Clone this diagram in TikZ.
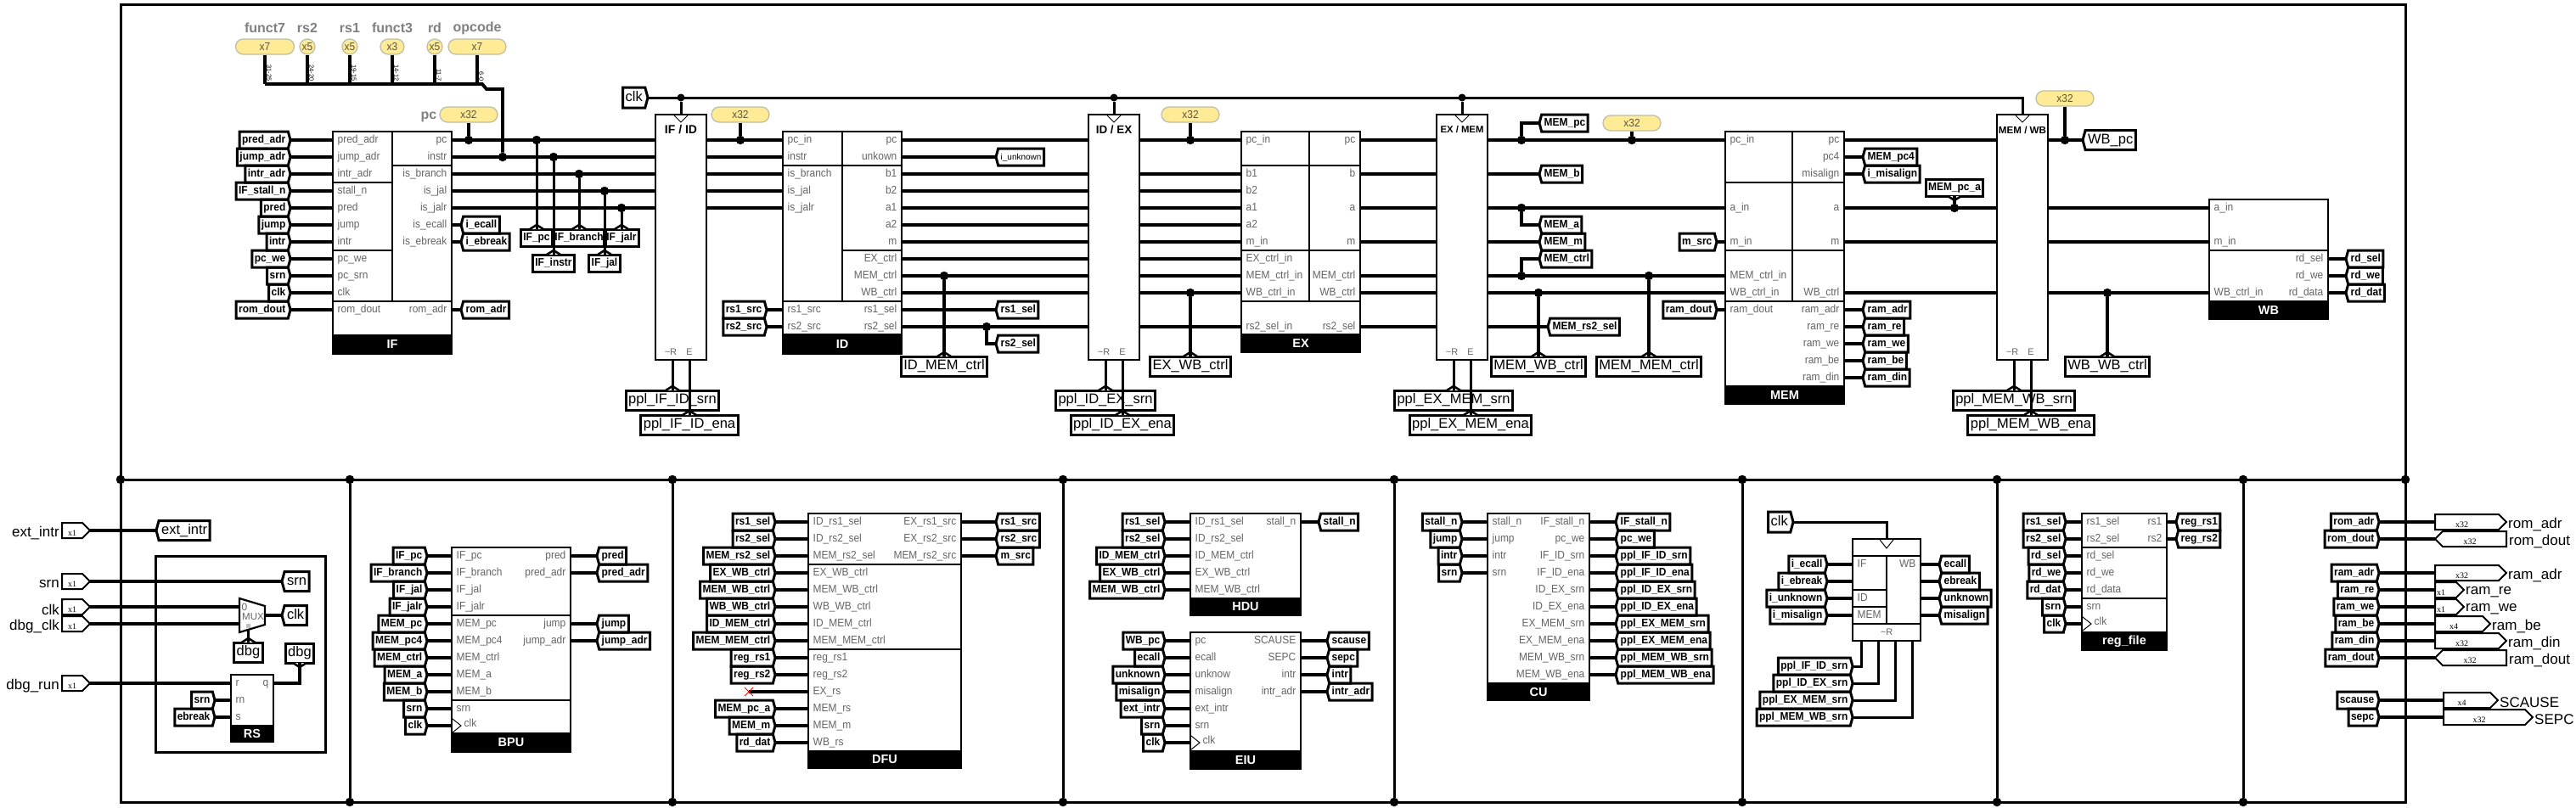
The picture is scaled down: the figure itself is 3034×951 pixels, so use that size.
\documentclass[tikz,border=0pt]{standalone}
\usepackage{fontspec}
\setmainfont{Liberation Sans}
\newfontfamily\pinfont{Liberation Serif}
\newfontfamily\tallfont[FakeStretch=0.92]{Liberation Sans}
\usetikzlibrary{shapes.symbols}
\catcode`\_=12
\definecolor{portgrey}{RGB}{100,100,100}
\definecolor{probefill}{RGB}{255,235,150}
\definecolor{probeline}{RGB}{190,190,165}
\definecolor{probetext}{RGB}{90,85,60}
\tikzset{
  wire/.style={line width=3.8,line join=miter},
  sig/.style={line width=3,line join=miter},
  frame/.style={line width=3},
  rule/.style={line width=1.4},
  dot/.style={circle,fill=black,inner sep=0,minimum size=10.5},
  modbody/.style={rectangle,draw,line width=2.2,inner sep=0,outer sep=0},
  modtitle/.style={rectangle,draw,fill=black,text=white,line width=2,inner sep=0,outer sep=0,font=\fontsize{14.5}{14.5}\selectfont\bfseries},
  portl/.style={anchor=west,xshift=5.5,inner sep=0,text=portgrey,text height=9,text depth=3,font=\fontsize{13}{13}\tallfont},
  portr/.style={anchor=east,xshift=-5.5,inner sep=0,text=portgrey,text height=9,text depth=3,font=\fontsize{13}{13}\tallfont},
  tagtext/.style={line width=3,outer sep=0,inner xsep=3,inner ysep=0,minimum height=20,text height=9,text depth=3,font=\fontsize{13}{13}\tallfont\bfseries},
  bigtag/.style={minimum height=23,text height=12,text depth=4,inner xsep=3,font=\fontsize{16.5}{16.5}\selectfont},
  tagr/.style={signal,draw,signal to=east,signal pointer angle=150,tagtext,anchor=east},
  tagl/.style={signal,draw,signal to=west,signal pointer angle=150,tagtext,anchor=west},
  tagbox/.style={rectangle,draw,tagtext},
  caret/.style={line width=2.6,fill=white,line join=miter},
  clkmark/.style={line width=1},
  pill/.style={rectangle,rounded corners=9,draw=probeline,fill=probefill,line width=1.3,inner sep=0,minimum height=18,minimum width=68,text=probetext,font=\fontsize{13}{13}\tallfont},
  probename/.style={inner sep=0,text=gray,font=\fontsize{16}{16}\selectfont\bfseries},
  bitlbl/.style={rotate=-90,anchor=east,inner sep=0,font=\fontsize{7.5}{7.5}\selectfont},
  pinr/.style={signal,draw,signal to=east,signal pointer angle=90,line width=2,outer sep=0,inner sep=0,minimum height=18,anchor=west},
  pinl/.style={signal,draw,signal to=west,signal pointer angle=90,line width=2,outer sep=0,inner sep=0,minimum height=18,anchor=east},
  pintext/.style={inner sep=0,font=\fontsize{10}{10}\selectfont\pinfont},
  pinname/.style={inner sep=0,font=\fontsize{17}{17}\selectfont},
}
\newcommand{\modbox}[7]{%
  \node[modbody,minimum width=#4,minimum height=#5,anchor=north west] (#1) at (#2,#3) {};
  \node[modtitle,minimum width=#4,minimum height=#6,anchor=north] (#1t) at (#1.south) {#7};
}
\newcommand{\portsl}[3]{%
  \foreach \y/\pn in {#3} {
    \coordinate (#1l\y) at (#2,\y);
    \node[portl] (#1lp\y) at (#2,\y) {\pn};
  }
}
\newcommand{\portsr}[3]{%
  \foreach \y/\pn in {#3} {
    \coordinate (#1r\y) at (#2,\y);
    \node[portr] (#1rp\y) at (#2,\y) {\pn};
  }
}
\newcommand{\tagsl}[4]{%
  \foreach \y/\pn/\tg in {#4} {
    \coordinate (#1l\y) at (#2,\y);
    \node[portl] (#1lp\y) at (#2,\y) {\pn};
    \node[tagr] (#1lt\y) at (#3,\y) {\tg};
    \draw[wire] (#1lt\y.east) -- (#1l\y);
  }
}
\newcommand{\tagsr}[4]{%
  \foreach \y/\pn/\tg in {#4} {
    \coordinate (#1r\y) at (#2,\y);
    \node[portr] (#1rp\y) at (#2,\y) {\pn};
    \node[tagl] (#1rt\y) at (#3,\y) {\tg};
    \draw[wire] (#1r\y) -- (#1rt\y.west);
  }
}
\newcommand{\tagup}[5]{%
  \node[tagbox,#1,anchor=north] (#2) at (#3,#4+5) {#5};
  \draw[caret] (#3-8,#4+5) -- (#3,#4) -- (#3+8,#4+5);
}
\newcommand{\tagdown}[5]{%
  \node[tagbox,#1,anchor=south] (#2) at (#3,#4-5) {#5};
  \draw[caret] (#3-8,#4-5) -- (#3,#4) -- (#3+8,#4-5);
}
\newcommand{\pipereg}[4]{%
  \node[modbody,minimum width=60,minimum height=289,anchor=north] (#1) at (#2,135) {};
  \draw[clkmark] (#2-8,136) -- (#2,144) -- (#2+8,136);
  \node[inner sep=0,font=\fontsize{#4}{#4}\selectfont\bfseries] (#1name) at (#2,153) {#3};
  \node[inner sep=0,text=portgrey,font=\fontsize{11}{11}\selectfont] (#1rst) at (#2-12,415) {\textasciitilde R};
  \node[inner sep=0,text=portgrey,font=\fontsize{11}{11}\selectfont] (#1ena) at (#2+10,415) {E};
  \foreach \y in {165,185,...,385} {
    \coordinate (#1l\y) at (#2-30,\y);
    \coordinate (#1r\y) at (#2+30,\y);
  }
  \coordinate (#1pr) at (#2-10,424);
  \coordinate (#1pe) at (#2+10,424);
  \tagup{bigtag}{ppl#1srn}{#2-10}{455}{ppl_#1_srn}
  \tagup{bigtag}{ppl#1ena}{#2+10}{484}{ppl_#1_ena}
  \draw[sig] (#1pr) -- (ppl#1srn.north);
  \draw[sig] (#1pe) -- (ppl#1ena.north);
}
\newcommand{\rowsbetween}[3]{%
  \foreach \y in {#3} \draw[wire] (#1r\y) -- (#2l\y);
}
\begin{document}
\begin{tikzpicture}[x=1pt,y=-1pt]
\useasboundingbox (0,0) rectangle (3034,951);
\fill[white] (0,0) rectangle (3034,951);

%Frame
\draw[frame] (142,5) rectangle (2833,945);
\node[dot] (mid142) at (142,565) {};
\node[dot] (mid2833) at (2833,565) {};
\draw[frame] (mid142) -- (mid2833);
\foreach \x in {412,792,1252,1642,2052,2352,2642} {
  \node[dot] (mid\x) at (\x,565) {};
  \node[dot] (low\x) at (\x,945) {};
  \draw[frame] (mid\x) -- (low\x);
}

%Instruction fields
\foreach \x/\bw/\nm/\bus/\bits in {312/69/funct7/x7/31-25,362/18/rs2/x5/24-20,412/18/rs1/x5/19-15,462/28/funct3/x3/14-12,512/18/rd/x5/11-7,562/68/opcode/x7/6-0} {
  \node[pill,minimum width=\bw] (pill\nm) at (\x,55) {\bus};
  \node[probename] (name\nm) at (\x,33) {\nm};
  \coordinate (bus\nm) at (\x,99);
  \draw[wire] (pill\nm.south) -- (bus\nm);
  \node[bitlbl] (bits\nm) at (\x+5,96) {\bits};
}

%IF stage
\modbox{IF}{392}{155}{140}{240}{22}{IF}
\draw[rule] (462,155) -- (462,355) (392,215) -- (462,215) (392,295) -- (462,295) (392,355) -- (532,355) (462,195) -- (532,195);
\tagsl{IF}{392}{342}{165/pred_adr/pred_adr,185/jump_adr/jump_adr,205/intr_adr/intr_adr,225/stall_n/IF_stall_n,245/pred/pred,265/jump/jump,285/intr/intr,305/pc_we/pc_we,325/pc_srn/srn,345/clk/clk,365/rom_dout/rom_dout}
\portsr{IF}{532}{165/pc,185/instr,205/is_branch,225/is_jal,245/is_jalr}
\tagsr{IF}{532}{543}{265/is_ecall/i_ecall,285/is_ebreak/i_ebreak,365/rom_adr/rom_adr}

%Pipeline registers
\node[tagr,bigtag,minimum height=24] (topclk) at (763,115) {clk};
\pipereg{IF_ID}{802}{IF / ID}{14}
\pipereg{ID_EX}{1312}{ID / EX}{13.4}
\pipereg{EX_MEM}{1722}{EX / MEM}{11.3}
\pipereg{MEM_WB}{2382}{MEM / WB}{11.6}
\foreach \x/\nm in {802/IF_ID,1312/ID_EX,1722/EX_MEM} {
  \node[dot,minimum size=9] (clk\nm) at (\x,115) {};
  \draw[sig] (clk\nm) -- (\nm.north);
}
\coordinate (clkcorner) at (2382,115);
\draw[sig] (topclk.east) -- (clkcorner) -- (MEM_WB.north);
\rowsbetween{IF}{IF_ID}{165,185,205,225,245}

%Taps behind IF
\foreach \x/\y/\tip/\nm in {632/165/265/IF_pc,652/185/295/IF_instr,682/205/265/IF_branch,712/225/295/IF_jal,732/245/265/IF_jalr} {
  \tagup{}{\nm}{\x}{\tip}{\nm}
  \node[dot] (tap\nm) at (\x,\y) {};
  \draw[sig] (tap\nm) -- (\nm.north);
}

%Splitter into fields
\node[dot] (dinstr) at (592,185) {};
\draw[wire] (busfunct7) -- (568,99) -- (573,105) -- (592,105) -- (dinstr);

%Probes
\node[probename] (namepc) at (505,138) {pc};
\foreach \x/\y/\row/\nm in {552/135/165/a,872/135/165/b,1402/135/165/c,1922/145/165/d,2432/116/165/e} {
  \node[pill] (pc\nm) at (\x,\y) {x32};
  \node[dot] (dpc\nm) at (\x,\row) {};
  \draw[wire] (pc\nm.south) -- (dpc\nm);
}

%ID stage
\modbox{ID}{922}{155}{140}{239}{23}{ID}
\draw[rule] (992,155) -- (992,355) (922,195) -- (1062,195) (992,295) -- (1062,295) (922,355) -- (1062,355);
\portsl{ID}{922}{165/pc_in,185/instr,205/is_branch,225/is_jal,245/is_jalr}
\tagsl{ID}{922}{903}{365/rs1_src/rs1_src,385/rs2_src/rs2_src}
\portsr{ID}{1062}{165/pc,185/unkown,205/b1,225/b2,245/a1,265/a2,285/m,305/EX_ctrl,325/MEM_ctrl,345/WB_ctrl,385/rs2_sel}
\tagsr{ID}{1062}{1173}{365/rs1_sel/rs1_sel}
\rowsbetween{IF_ID}{ID}{165,185,205,225,245}
\rowsbetween{ID}{ID_EX}{165,205,225,245,265,285,305,325,345,385}
\node[tagl,font=\fontsize{10}{10}\selectfont] (i_unknown) at (1173,185) {i_unknown};
\draw[wire] (IDr185) -- (i_unknown.west);
\node[tagl] (rs2_sel) at (1173,405) {rs2_sel};
\node[dot] (drs2) at (1162,385) {};
\draw[wire] (drs2) |- (rs2_sel.west);

%EX stage
\modbox{EX}{1462}{155}{140}{239}{21}{EX}
\draw[rule] (1542,155) -- (1542,355) (1462,195) -- (1602,195) (1462,295) -- (1602,295) (1462,355) -- (1602,355);
\portsl{EX}{1462}{165/pc_in,205/b1,225/b2,245/a1,265/a2,285/m_in,305/EX_ctrl_in,325/MEM_ctrl_in,345/WB_ctrl_in,385/rs2_sel_in}
\portsr{EX}{1602}{165/pc,205/b,245/a,285/m,325/MEM_ctrl,345/WB_ctrl,385/rs2_sel}
\rowsbetween{ID_EX}{EX}{165,205,225,245,265,285,305,325,345,385}
\rowsbetween{EX}{EX_MEM}{165,205,245,285,325,345,385}

%MEM stage
\modbox{MEM}{2032}{155}{140}{300}{21}{MEM}
\draw[rule] (2111,155) -- (2111,355) (2032,215) -- (2172,215) (2032,295) -- (2172,295) (2032,355) -- (2172,355);
\portsl{MEM}{2032}{165/pc_in,245/a_in,325/MEM_ctrl_in,345/WB_ctrl_in}
\tagsl{MEM}{2032}{2022}{285/m_in/m_src,365/ram_dout/ram_dout}
\portsr{MEM}{2172}{165/pc,245/a,285/m,345/WB_ctrl}
\tagsr{MEM}{2172}{2194}{185/pc4/MEM_pc4,205/misalign/i_misalign,365/ram_adr/ram_adr,385/ram_re/ram_re,405/ram_we/ram_we,425/ram_be/ram_be,445/ram_din/ram_din}
\rowsbetween{EX_MEM}{MEM}{165,245,325,345}
\rowsbetween{MEM}{MEM_WB}{165,245,285,345}

%Taps behind EX and MEM
\foreach \y/\row/\nm in {145/165/MEM_pc,265/245/MEM_a,305/325/MEM_ctrl} {
  \node[tagl] (\nm) at (1813,\y) {\nm};
  \node[dot] (tap\nm) at (1792,\row) {};
  \draw[wire] (tap\nm) |- (\nm.west);
}
\foreach \y/\nm in {205/MEM_b,285/MEM_m} {
  \node[tagl] (\nm) at (1813,\y) {\nm};
  \draw[wire] (EX_MEMr\y) -- (\nm.west);
}
\node[tagl] (MEM_rs2_sel) at (1823,385) {MEM_rs2_sel};
\draw[wire] (EX_MEMr385) -- (MEM_rs2_sel.west);
\tagdown{}{MEM_pc_a}{2302}{236}{MEM_pc_a}
\node[dot] (dpca) at (2302,245) {};
\draw[wire] (dpca) -- (MEM_pc_a.south);

%Forwarded control
\foreach \x/\y/\nm in {1112/325/ID_MEM_ctrl,1402/345/EX_WB_ctrl,1812/345/MEM_WB_ctrl,1942/325/MEM_MEM_ctrl,2482/345/WB_WB_ctrl} {
  \tagup{bigtag}{\nm}{\x}{415}{\nm}
  \node[dot] (tap\nm) at (\x,\y) {};
  \draw[wire] (tap\nm) -- (\nm.north);
}

%WB stage
\modbox{WB}{2602}{235}{140}{120}{21}{WB}
\draw[rule] (2602,295) -- (2742,295);
\portsl{WB}{2602}{245/a_in,285/m_in,345/WB_ctrl_in}
\tagsr{WB}{2742}{2763}{305/rd_sel/rd_sel,325/rd_we/rd_we,345/rd_data/rd_dat}
\rowsbetween{MEM_WB}{WB}{245,285,345}
\node[tagl,bigtag] (WB_pc) at (2453,165) {WB_pc};
\draw[wire] (MEM_WBr165) -- (WB_pc.west);

%Input pins
\foreach \y/\nm in {625/ext_intr,685/srn,715/clk,735/dbg_clk,805/dbg_run} {
  \node[pinr,minimum width=33] (pin\nm) at (73,\y) {};
  \node[pintext] (pinw\nm) at (85,\y+3) {x1};
  \node[pinname,anchor=east] (pinn\nm) at (70,\y+3) {\nm};
}
\node[tagl,bigtag] (ext_intr) at (184,625) {ext_intr};
\draw[wire] (pinext_intr.east) -- (ext_intr.west);

%Debug clock
\draw[frame] (183,655) rectangle (383,886);
\node[tagl,bigtag] (srntag) at (332,685) {srn};
\draw[wire] (pinsrn.east) -- (srntag.west);
\draw[modbody,fill=white] (282,705) -- (312,714) -- (312,736) -- (282,745) -- cycle;
\coordinate (mux0) at (282,715);
\coordinate (mux1) at (282,735);
\coordinate (muxo) at (312,725);
\coordinate (muxs) at (292.5,741);
\node[inner sep=0,text=portgrey,font=\fontsize{12}{12}\selectfont] (muxa) at (288,715) {0};
\node[inner sep=0,text=portgrey,font=\fontsize{11.5}{11.5}\selectfont] (muxb) at (298,727) {MUX};
\node[fill=lightgray,inner sep=0,minimum size=5] (muxsq) at (292.5,737) {};
\draw[wire] (pinclk.east) -- (mux0);
\draw[wire] (pindbg_clk.east) -- (mux1);
\node[tagl,bigtag] (clktag) at (332,725) {clk};
\draw[wire] (muxo) -- (clktag.west);
\tagup{bigtag}{dbgsel}{292.5}{752}{dbg}
\draw[sig] (muxs) -- (dbgsel.north);
\modbox{RS}{272}{795}{50}{60}{19}{RS}
\tagsl{RS}{272}{253}{825/rn/srn,845/s/ebreak}
\portsl{RS}{272}{805/r}
\portsr{RS}{322}{805/q}
\draw[wire] (pindbg_run.east) -- (RSl805);
\tagdown{bigtag}{dbgout}{353}{786}{dbg}
\draw[wire] (RSr805) -| (dbgout.south);

%BPU
\modbox{BPU}{532}{645}{140}{219}{22}{BPU}
\draw[rule] (532,725) -- (672,725) (532,825) -- (672,825);
\tagsl{BPU}{532}{503}{655/IF_pc/IF_pc,675/IF_branch/IF_branch,695/IF_jal/IF_jal,715/IF_jalr/IF_jalr,735/MEM_pc/MEM_pc,755/MEM_pc4/MEM_pc4,775/MEM_ctrl/MEM_ctrl,795/MEM_a/MEM_a,815/MEM_b/MEM_b,835/srn/srn,855//clk}
\tagsr{BPU}{672}{703}{655/pred/pred,675/pred_adr/pred_adr,735/jump/jump,755/jump_adr/jump_adr}
\draw[clkmark] (533,847) -- (543,855) -- (533,863);
\node[portl] (BPUclk) at (541,853) {clk};

%DFU
\modbox{DFU}{952}{605}{180}{280}{20}{DFU}
\draw[rule] (952,665) -- (1132,665) (952,765) -- (1132,765);
\tagsl{DFU}{952}{913}{615/ID_rs1_sel/rs1_sel,635/ID_rs2_sel/rs2_sel,655/MEM_rs2_sel/MEM_rs2_sel,675/EX_WB_ctrl/EX_WB_ctrl,695/MEM_WB_ctrl/MEM_WB_ctrl,715/WB_WB_ctrl/WB_WB_ctrl,735/ID_MEM_ctrl/ID_MEM_ctrl,755/MEM_MEM_ctrl/MEM_MEM_ctrl,775/reg_rs1/reg_rs1,795/reg_rs2/reg_rs2,835/MEM_rs/MEM_pc_a,855/MEM_m/MEM_m,875/WB_rs/rd_dat}
\portsl{DFU}{952}{815/EX_rs}
\tagsr{DFU}{1132}{1173}{615/EX_rs1_src/rs1_src,635/EX_rs2_src/rs2_src,655/MEM_rs2_src/m_src}
\coordinate (dfunc) at (882,815);
\draw[wire] (dfunc) -- (DFUl815);
\draw[red,line width=1] (877,810) -- (887,820) (877,820) -- (887,810);

%HDU
\modbox{HDU}{1402}{605}{130}{100}{20}{HDU}
\tagsl{HDU}{1402}{1372}{615/ID_rs1_sel/rs1_sel,635/ID_rs2_sel/rs2_sel,655/ID_MEM_ctrl/ID_MEM_ctrl,675/EX_WB_ctrl/EX_WB_ctrl,695/MEM_WB_ctrl/MEM_WB_ctrl}
\tagsr{HDU}{1532}{1553}{615/stall_n/stall_n}

%EIU
\modbox{EIU}{1402}{745}{130}{140}{21}{EIU}
\tagsl{EIU}{1402}{1372}{755/pc/WB_pc,775/ecall/ecall,795/unknow/unknown,815/misalign/misalign,835/ext_intr/ext_intr,855/srn/srn,875//clk}
\tagsr{EIU}{1532}{1563}{755/SCAUSE/scause,775/SEPC/sepc,795/intr/intr,815/intr_adr/intr_adr}
\draw[clkmark] (1403,867) -- (1413,875) -- (1403,883);
\node[portl] (EIUclk) at (1411,873) {clk};

%CU
\modbox{CU}{1752}{605}{120}{200}{20}{CU}
\tagsl{CU}{1752}{1722}{615/stall_n/stall_n,635/jump/jump,655/intr/intr,675/srn/srn}
\tagsr{CU}{1872}{1903}{615/IF_stall_n/IF_stall_n,635/pc_we/pc_we,655/IF_ID_srn/ppl_IF_ID_srn,675/IF_ID_ena/ppl_IF_ID_ena,695/ID_EX_srn/ppl_ID_EX_srn,715/ID_EX_ena/ppl_ID_EX_ena,735/EX_MEM_srn/ppl_EX_MEM_srn,755/EX_MEM_ena/ppl_EX_MEM_ena,775/MEM_WB_srn/ppl_MEM_WB_srn,795/MEM_WB_ena/ppl_MEM_WB_ena}

%Exception pipeline
\node[modbody,minimum width=80,minimum height=120,anchor=north west] (EXC) at (2182,635) {};
\draw[rule] (2182,655) -- (2262,655) (2182,695) -- (2222,695) (2182,715) -- (2222,715) (2182,735) -- (2262,735) (2222,655) -- (2222,735);
\draw[clkmark] (2214,636) -- (2222,646) -- (2230,636);
\node[inner sep=0,text=portgrey,font=\fontsize{11}{11}\selectfont] (EXCrst) at (2222,745) {\textasciitilde R};
\tagsl{EXC}{2182}{2152}{665/IF/i_ecall,685//i_ebreak,705/ID/i_unknown,725/MEM/i_misalign}
\tagsr{EXC}{2262}{2284}{665/WB/ecall,685//ebreak,705//unknown,725//misalign}
\node[tagr,bigtag,minimum height=24] (clkexc) at (2112,615) {clk};
\draw[sig] (clkexc.east) -| (EXC.north);
\foreach \x/\y/\nm in {2192/785/ppl_IF_ID_srn,2212/805/ppl_ID_EX_srn,2232/825/ppl_EX_MEM_srn,2252/845/ppl_MEM_WB_srn} {
  \node[tagr] (exc\nm) at (2182,\y) {\nm};
  \coordinate (excb\nm) at (\x,755);
  \draw[sig] (excb\nm) |- (exc\nm.east);
}

%Register file
\modbox{REG}{2452}{605}{100}{140}{21}{reg_file}
\draw[rule] (2452,645) -- (2552,645) (2452,705) -- (2552,705);
\tagsl{REG}{2452}{2433}{615/rs1_sel/rs1_sel,635/rs2_sel/rs2_sel,655/rd_sel/rd_sel,675/rd_we/rd_we,695/rd_data/rd_dat,715/srn/srn,735//clk}
\tagsr{REG}{2552}{2563}{615/rs1/reg_rs1,635/rs2/reg_rs2}
\draw[clkmark] (2453,727) -- (2463,735) -- (2453,743);
\node[portl] (REGclk) at (2461,733) {clk};

%Output pins
\foreach \y/\nm/\wtxt/\bw/\bus/\cx/\tg in {615/rom_adr/rom_adr/84/x32/2899.5/rom_adr,675/ram_adr/ram_adr/84/x32/2899.5/ram_adr,695/ram_re/ram_re/34/x1/2875/ram_re,715/ram_we/ram_we/34/x1/2875/ram_we,735/ram_be/ram_be/65/x4/2890/ram_be,755/ram_din/ram_din/84/x32/2899.5/ram_din} {
  \node[tagr] (out\tg) at (2802,\y) {\tg};
  \node[pinr,minimum width=\bw] (pin\nm) at (2868,\y) {};
  \node[pintext] (pinw\nm) at (\cx,\y+3) {\bus};
  \node[pinname,anchor=west,xshift=2] (pinn\nm) at (pin\nm.east) [yshift=-3] {\wtxt};
  \draw[wire] (out\tg.east) -- (pin\nm.west);
}
\foreach \y/\nm in {635/rom_dout,775/ram_dout} {
  \node[tagr] (out\nm) at (2802,\y) {\nm};
  \node[pinl,minimum width=84] (pin\nm) at (2952,\y) {};
  \node[pintext] (pinw\nm) at (2909,\y+3) {x32};
  \node[pinname,anchor=west] (pinn\nm) at (2955,\y+3) {\nm};
  \draw[wire] (out\nm.east) -- (pin\nm.west);
}
\foreach \y/\tg/\nm/\bw/\bus/\cx in {825/scause/SCAUSE/64/x4/2899.5,845/sepc/SEPC/105/x32/2920} {
  \node[tagr] (out\tg) at (2802,\y) {\tg};
  \node[pinr,minimum width=\bw] (pin\nm) at (2878,\y) {};
  \node[pintext] (pinw\nm) at (\cx,\y+3) {\bus};
  \node[pinname,anchor=west,xshift=2] (pinn\nm) at (pin\nm.east) [yshift=-3] {\nm};
  \draw[wire] (out\tg.east) -- (pin\nm.west);
}
\end{tikzpicture}
\end{document}
